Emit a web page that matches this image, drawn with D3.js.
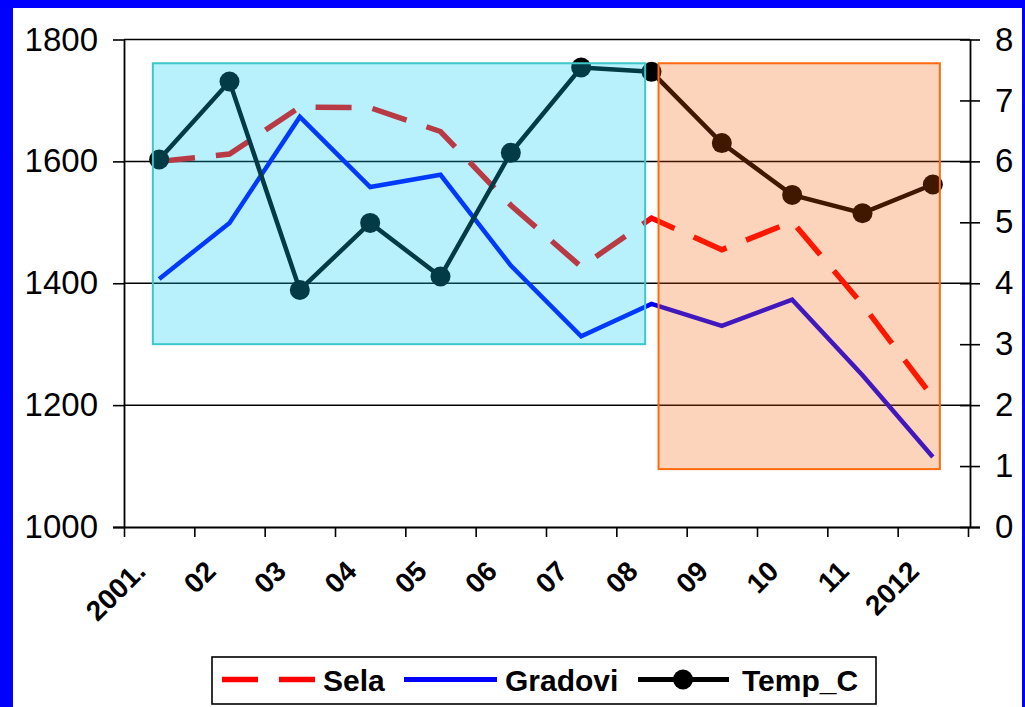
<!DOCTYPE html>
<html>
<head>
<meta charset="utf-8">
<script src="https://cdn.jsdelivr.net/npm/d3@7"></script>
<style>
  html, body { margin: 0; padding: 0; background: #fff; }
  svg { display: block; font-family: Arial, "Liberation Sans", sans-serif; }
</style>
</head>
<body>
<svg id="chart" width="1025" height="707"></svg>
<script>
// ---- data ----
const categories = ["2001.", "02", "03", "04", "05", "06", "07", "08", "09", "10", "11", "2012"];
const sela    = [1600, 1612, 1689, 1688, 1649, 1528, 1427, 1507, 1455, 1501, 1365, 1213];
const gradovi = [1407, 1499, 1673, 1558, 1578, 1429, 1313, 1366, 1330, 1373, 1249, 1115];
const tempC   = [6.03, 7.31, 3.89, 4.99, 4.11, 6.14, 7.54, 7.47, 6.30, 5.45, 5.15, 5.62];
const leftTicks  = [1000, 1200, 1400, 1600, 1800];
const rightTicks = [0, 1, 2, 3, 4, 5, 6, 7, 8];
const seriesNames = ["Sela", "Gradovi", "Temp_C"];
// highlighted periods: [start index, end index, bottom value, top value] (left-axis units)
const highlightCyan   = [0.41, 7.41, 1300, 1761];
const highlightOrange = [7.60, 11.60, 1095, 1761];

// ---- layout ----
const svg = d3.select("#chart");
const W = 1025, H = 707;
const plot = { left: 124, right: 968, top: 39.5, bottom: 527 };

svg.append("rect").attr("x", 0).attr("y", 0).attr("width", W).attr("height", H).attr("fill", "#0000ff");
svg.append("rect").attr("x", 13).attr("y", 8).attr("width", 1009).attr("height", H - 8).attr("fill", "#ffffff");

const xBand = d3.scaleBand().domain(categories).range([plot.left, plot.right]);
const xIdx = d3.scaleLinear().domain([0, categories.length]).range([plot.left, plot.right]);
const yL = d3.scaleLinear().domain([1000, 1800]).range([plot.bottom, plot.top]);
const yR = d3.scaleLinear().domain([0, 8]).range([plot.bottom, plot.top]);
const cx = c => xBand(c) + xBand.bandwidth() / 2;
const axisRightX = 970;

// gridlines
svg.append("g").selectAll("line").data(leftTicks.filter(v => v > 1000)).join("line")
  .attr("x1", plot.left).attr("x2", axisRightX)
  .attr("y1", d => yL(d)).attr("y2", d => yL(d))
  .attr("stroke", "#000").attr("stroke-width", 1.5);

// axes
const gL = svg.append("g").attr("transform", `translate(${plot.left},0)`)
  .call(d3.axisLeft(yL).tickValues(leftTicks).tickFormat(d3.format("d")).tickSize(11).tickPadding(15));
gL.selectAll("text").attr("font-size", 33).attr("fill", "#000").attr("font-family", "Arial, 'Liberation Sans', sans-serif");

const gR = svg.append("g").attr("transform", `translate(${axisRightX},0)`)
  .call(d3.axisRight(yR).tickValues(rightTicks).tickSize(10).tickPadding(15));
gR.selectAll(".tick line").attr("x1", -10);
gR.selectAll("text").attr("font-size", 33).attr("fill", "#000").attr("font-family", "Arial, 'Liberation Sans', sans-serif");

const gX = svg.append("g").attr("transform", `translate(0,${plot.bottom})`)
  .call(d3.axisBottom(xIdx).tickValues(d3.range(categories.length + 1)).tickFormat("").tickSize(10));
gX.select(".domain").attr("d", `M${plot.left - 11},0.5H${axisRightX + 10}`);

[gL, gR, gX].forEach(g => {
  g.selectAll("line").attr("stroke", "#000").attr("stroke-width", 1.6);
  g.select(".domain").attr("stroke", "#000").attr("stroke-width", 1.8);
});
gL.select(".domain").attr("d", `M0.5,${plot.bottom}V${plot.top}`);
gR.select(".domain").attr("d", `M0.5,${plot.bottom}V${plot.top}`);

// x labels
svg.append("g").selectAll("text").data(categories).join("text")
  .attr("transform", d => `translate(${cx(d) - 12},${573}) rotate(-45)`)
  .attr("text-anchor", "end")
  .attr("font-size", 28).attr("font-weight", "bold").attr("fill", "#000")
  .text(d => d);

// lines
const lineL = d3.line().x((d, i) => cx(categories[i])).y(d => yL(d));
const lineR = d3.line().x((d, i) => cx(categories[i])).y(d => yR(d));

svg.append("path").datum(gradovi).attr("d", lineL)
  .attr("fill", "none").attr("stroke", "#0000ff").attr("stroke-width", 4.5).attr("stroke-linejoin", "miter");
svg.append("path").datum(sela).attr("d", lineL)
  .attr("fill", "none").attr("stroke", "#ff0000").attr("stroke-width", 5.5)
  .attr("stroke-dasharray", "36,21");
svg.append("path").datum(tempC).attr("d", lineR)
  .attr("fill", "none").attr("stroke", "#000").attr("stroke-width", 4.5);
svg.append("g").selectAll("circle").data(tempC).join("circle")
  .attr("cx", (d, i) => cx(categories[i])).attr("cy", d => yR(d)).attr("r", 10).attr("fill", "#000");

// highlight overlays
function overlay(h, fill, op, stroke) {
  svg.append("rect")
    .attr("x", xIdx(h[0])).attr("y", yL(h[3]))
    .attr("width", xIdx(h[1]) - xIdx(h[0])).attr("height", yL(h[2]) - yL(h[3]))
    .attr("fill", fill).attr("fill-opacity", op)
    .attr("stroke", stroke).attr("stroke-width", 2);
}
overlay(highlightCyan, "rgb(7,203,241)", 0.286, "#3cc8c8");
overlay(highlightOrange, "rgb(243,91,0)", 0.263, "#ff6a10");

// legend
const lg = svg.append("g");
lg.append("rect").attr("x", 212).attr("y", 657).attr("width", 664).attr("height", 47)
  .attr("fill", "#fff").attr("stroke", "#000").attr("stroke-width", 1.6);
const ly = 679.5, lty = 691;
lg.append("line").attr("x1", 222).attr("x2", 315).attr("y1", ly).attr("y2", ly)
  .attr("stroke", "#ff0000").attr("stroke-width", 5.5).attr("stroke-dasharray", "36,21");
lg.append("line").attr("x1", 404).attr("x2", 497).attr("y1", ly).attr("y2", ly)
  .attr("stroke", "#0000ff").attr("stroke-width", 5);
lg.append("line").attr("x1", 638).attr("x2", 729).attr("y1", ly).attr("y2", ly)
  .attr("stroke", "#000").attr("stroke-width", 5);
lg.append("circle").attr("cx", 683).attr("cy", ly).attr("r", 10).attr("fill", "#000");
const legendX = [323, 505, 742];
lg.selectAll("text.lt").data(seriesNames).join("text").attr("class", "lt")
  .attr("x", (d, i) => legendX[i]).attr("y", lty)
  .attr("font-size", 30).attr("font-weight", "bold").attr("fill", "#000")
  .text(d => d);
</script>
</body>
</html>
